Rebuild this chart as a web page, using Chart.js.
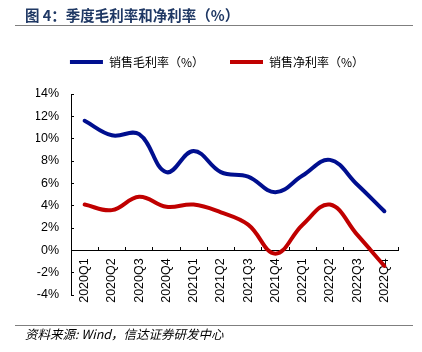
<!DOCTYPE html>
<html>
<head>
<meta charset="utf-8">
<script src="https://cdn.jsdelivr.net/npm/chart.js@4/dist/chart.umd.min.js"></script>
<style>
  body { margin: 0; background: #fff; }
  #wrap { position: relative; width: 422px; height: 352px; }
  #title {
    position: absolute; left: 25px; top: 4px;
    font: bold 14.5px "Noto Sans CJK SC", sans-serif; color: #1f3864;
    white-space: nowrap;
  }
  .rule { position: absolute; left: 15px; width: 398px; height: 1px; background: #7f7f7f; }
  #source {
    position: absolute; left: 25px; top: 324px;
    font: italic 12.5px "Noto Sans CJK SC", "Liberation Sans", sans-serif; color: #000;
    white-space: nowrap;
  }
  #chart { position: absolute; left: 0; top: 0; }
</style>
</head>
<body>
<div id="wrap">
  <canvas id="chart" width="422" height="352"></canvas>
  <div id="title">图 4：季度毛利率和净利率（%）</div>
  <div class="rule" style="top:25px"></div>
  <div class="rule" style="top:325px"></div>
  <div id="source">资料来源: Wind，信达证券研发中心</div>
</div>
<script>
// Data
const quarters = ['2020Q1', '2020Q2', '2020Q3', '2020Q4', '2021Q1', '2021Q2',
                  '2021Q3', '2021Q4', '2022Q1', '2022Q2', '2022Q3', '2022Q4'];
const grossMargin = [11.6, 10.3, 10.4, 7.0, 8.9, 7.0, 6.6, 5.2, 6.7, 8.1, 5.9, 3.5];
const netMargin = [4.1, 3.6, 4.8, 3.9, 4.1, 3.4, 2.3, -0.3, 2.3, 4.1, 1.4, -1.4];
const seriesNames = ['销售毛利率（%）', '销售净利率（%）'];
const seriesColors = ['#000f8f', '#c00000'];

// Extra room under the legend so the plot starts lower
const legendGap = {
    id: 'legendGap',
    beforeInit(chart) {
        const fit = chart.legend.fit;
        chart.legend.fit = function () {
            fit.call(this);
            this.height += 16;
        };
    }
};

const ctx = document.getElementById('chart');

const myChart = new Chart(ctx, {
    type: 'line',
    data: {
        labels: quarters,
        datasets: [
            { label: seriesNames[0], data: grossMargin, borderColor: seriesColors[0], backgroundColor: seriesColors[0] },
            { label: seriesNames[1], data: netMargin, borderColor: seriesColors[1], backgroundColor: seriesColors[1] }
        ]
    },
    plugins: [legendGap],
    options: {
        responsive: false,
        animation: false,
        devicePixelRatio: 1,
        elements: {
            line: { borderWidth: 4, tension: 0.4, borderCapStyle: 'round' },
            point: { radius: 0 }
        },
        layout: { padding: { top: 30, left: 36, right: 24, bottom: 57 } },
        plugins: {
            tooltip: { enabled: false },
            legend: {
                labels: {
                    font: { family: '"Noto Sans CJK SC"', size: 12 },
                    color: '#000',
                    boxWidth: 33,
                    boxHeight: 4,
                    padding: 26,
                    generateLabels: chart => chart.data.datasets.map((ds, i) => ({
                        text: ds.label,
                        fillStyle: ds.borderColor,
                        strokeStyle: ds.borderColor,
                        lineWidth: 0,
                        datasetIndex: i
                    }))
                }
            }
        },
        scales: {
            x: {
                position: { y: 0 },
                offset: true,
                grid: { offset: true, drawOnChartArea: false, tickLength: -4, color: '#000' },
                border: { color: '#000', width: 1 },
                ticks: {
                    minRotation: 90, maxRotation: 90, padding: 12,
                    font: { family: '"Liberation Sans"', size: 12.5 }, color: '#000'
                }
            },
            y: {
                min: -4, max: 14,
                grid: { drawOnChartArea: false, tickLength: -3, color: '#000' },
                border: { color: '#000', width: 1 },
                ticks: {
                    stepSize: 2, padding: 15,
                    font: { family: '"Liberation Sans"', size: 12.5 }, color: '#000',
                    callback: v => v + '%'
                },
                afterFit: scale => { scale.width = 35; }
            }
        }
    }
});
</script>
</body>
</html>
